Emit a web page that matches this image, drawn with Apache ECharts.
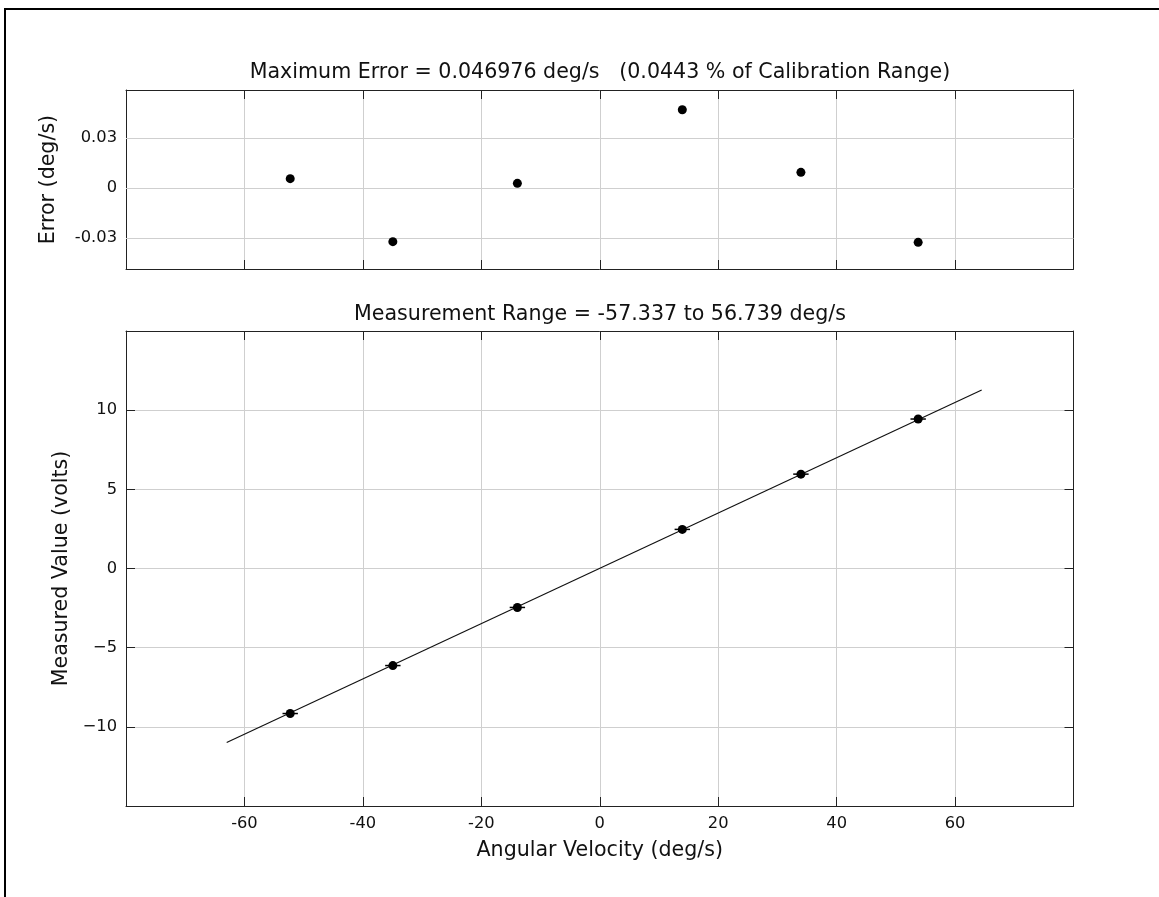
<!DOCTYPE html>
<html>
<head>
<meta charset="utf-8">
<script src="https://cdn.jsdelivr.net/npm/echarts@6/dist/echarts.min.js"></script>
<style>
html,body{margin:0;padding:0;background:#fff;}
#chart{width:1159px;height:897px;}
</style>
</head>
<body>
<div id="chart"></div>
<script>
// ---- data ----
const angVel   = [-52.27, -34.94, -13.91, 13.94, 33.97, 53.77];  // deg/s
const measured = [-9.16, -6.13, -2.46, 2.47, 5.96, 9.44];        // volts
const xErr     = [1.3, 1.3, 1.3, 1.3, 1.3, 1.3];                 // deg/s
const errors   = [0.0056, -0.0322, 0.0028, 0.04698, 0.0094, -0.0326]; // deg/s
const fitX     = [-63.0, 64.5];
const fitY     = [-10.99, 11.27];
const errTicks = [-0.03, 0, 0.03];
const titleTop = 'Maximum Error = 0.046976 deg/s   (0.0443 % of Calibration Range)';
const titleBottom = 'Measurement Range = -57.337 to 56.739 deg/s';
const xName = 'Angular Velocity (deg/s)';
const yNameTop = 'Error (deg/s)';
const yNameBottom = 'Measured Value (volts)';

const FONT = 'DejaVu Sans';
const frameColor = '#222';
const gridColor = '#cfcfcf';
const BIG = 20.6;

const G0 = {left:126, top:90, width:947.5, height:179};
const G1 = {left:126, top:331, width:947.5, height:475};

function frameAxis(extra){
  return Object.assign({
    type:'value',
    axisLine:{show:true, onZero:false, lineStyle:{color:frameColor, width:1}},
    axisTick:{show:true, inside:true, length:9, lineStyle:{color:frameColor, width:1}},
    axisLabel:{show:false},
    splitLine:{show:false}
  }, extra);
}
const tickLabel = {fontFamily:FONT, fontSize:16.3, color:'#111'};

const option = {
  animation:false,
  backgroundColor:'#fff',
  title:[
    {text:titleTop, left:600, top:62, textAlign:'center', padding:0,
     textStyle:{fontFamily:FONT, fontSize:BIG, fontWeight:'normal', color:'#111'}},
    {text:titleBottom, left:600, top:304, textAlign:'center', padding:0,
     textStyle:{fontFamily:FONT, fontSize:BIG, fontWeight:'normal', color:'#111'}}
  ],
  grid:[G0, G1],
  xAxis:[
    frameAxis({gridIndex:0, position:'bottom', min:-80, max:80, interval:20,
      splitLine:{show:true, lineStyle:{color:gridColor, width:1}}}),
    frameAxis({gridIndex:0, position:'top', min:-80, max:80, interval:20}),
    frameAxis({gridIndex:1, position:'bottom', min:-80, max:80, interval:20,
      splitLine:{show:true, lineStyle:{color:gridColor, width:1}},
      axisLabel:Object.assign({show:true, margin:10, showMinLabel:false, showMaxLabel:false}, tickLabel),
      name:xName, nameLocation:'middle', nameGap:34,
      nameTextStyle:{fontFamily:FONT, fontSize:BIG, color:'#111'}}),
    frameAxis({gridIndex:1, position:'top', min:-80, max:80, interval:20})
  ],
  yAxis:[
    frameAxis({gridIndex:0, position:'left', min:-0.0486, max:0.0588,
      axisTick:{show:true, inside:true, length:9, customValues:errTicks, lineStyle:{color:frameColor, width:1}},
      axisLabel:Object.assign({show:true, margin:9, customValues:errTicks,
        formatter:function(v){return String(Math.round(v*100)/100);}}, tickLabel),
      name:yNameTop, nameLocation:'middle', nameGap:67,
      nameTextStyle:{fontFamily:FONT, fontSize:BIG, color:'#111'}}),
    frameAxis({gridIndex:0, position:'right', min:-0.0486, max:0.0588,
      axisTick:{show:true, inside:true, length:9, customValues:errTicks, lineStyle:{color:frameColor, width:1}}}),
    frameAxis({gridIndex:1, position:'left', min:-15, max:15, interval:5,
      splitLine:{show:true, lineStyle:{color:gridColor, width:1}},
      axisLabel:Object.assign({show:true, margin:9, showMinLabel:false, showMaxLabel:false,
        formatter:function(v){return v<0 ? '\u2212'+Math.abs(v) : String(v);}}, tickLabel),
      name:yNameBottom, nameLocation:'middle', nameGap:54,
      nameTextStyle:{fontFamily:FONT, fontSize:BIG, color:'#111'}}),
    frameAxis({gridIndex:1, position:'right', min:-15, max:15, interval:5})
  ],
  series:[
    {
      type:'scatter', xAxisIndex:0, yAxisIndex:0,
      data: angVel.map((x,i)=>[x, errors[i]]),
      symbol:'circle', symbolSize:9, itemStyle:{color:'#000', opacity:1}, z:5,
      markLine:{
        silent:true, symbol:'none', label:{show:false},
        lineStyle:{color:gridColor, width:1, type:'solid'},
        data: errTicks.map(v=>({yAxis:v})),
        z:1
      }
    },
    {
      type:'line', xAxisIndex:2, yAxisIndex:2,
      data: fitX.map((x,i)=>[x, fitY[i]]),
      showSymbol:false, symbol:'none',
      lineStyle:{color:'#111', width:1.2}, z:3
    },
    {
      type:'custom', xAxisIndex:2, yAxisIndex:2,
      data: angVel.map((x,i)=>[x, measured[i], xErr[i]]),
      renderItem:function(params, api){
        const x = api.value(0), y = api.value(1), e = api.value(2);
        const p1 = api.coord([x-e, y]);
        const p2 = api.coord([x+e, y]);
        return {type:'line', shape:{x1:p1[0], y1:p1[1], x2:p2[0], y2:p2[1]},
                style:{stroke:'#000', lineWidth:1.5}};
      },
      z:4
    },
    {
      type:'scatter', xAxisIndex:2, yAxisIndex:2,
      data: angVel.map((x,i)=>[x, measured[i]]),
      symbol:'circle', symbolSize:9, itemStyle:{color:'#000', opacity:1}, z:5
    }
  ],
  graphic:[
    {type:'line', shape:{x1:4, y1:9, x2:1159, y2:9}, style:{stroke:'#000', lineWidth:2}},
    {type:'line', shape:{x1:5, y1:8, x2:5, y2:897}, style:{stroke:'#000', lineWidth:2}}
  ]
};

const chart = echarts.init(document.getElementById('chart'), null, {renderer:'canvas'});
chart.setOption(option);
</script>
</body>
</html>
